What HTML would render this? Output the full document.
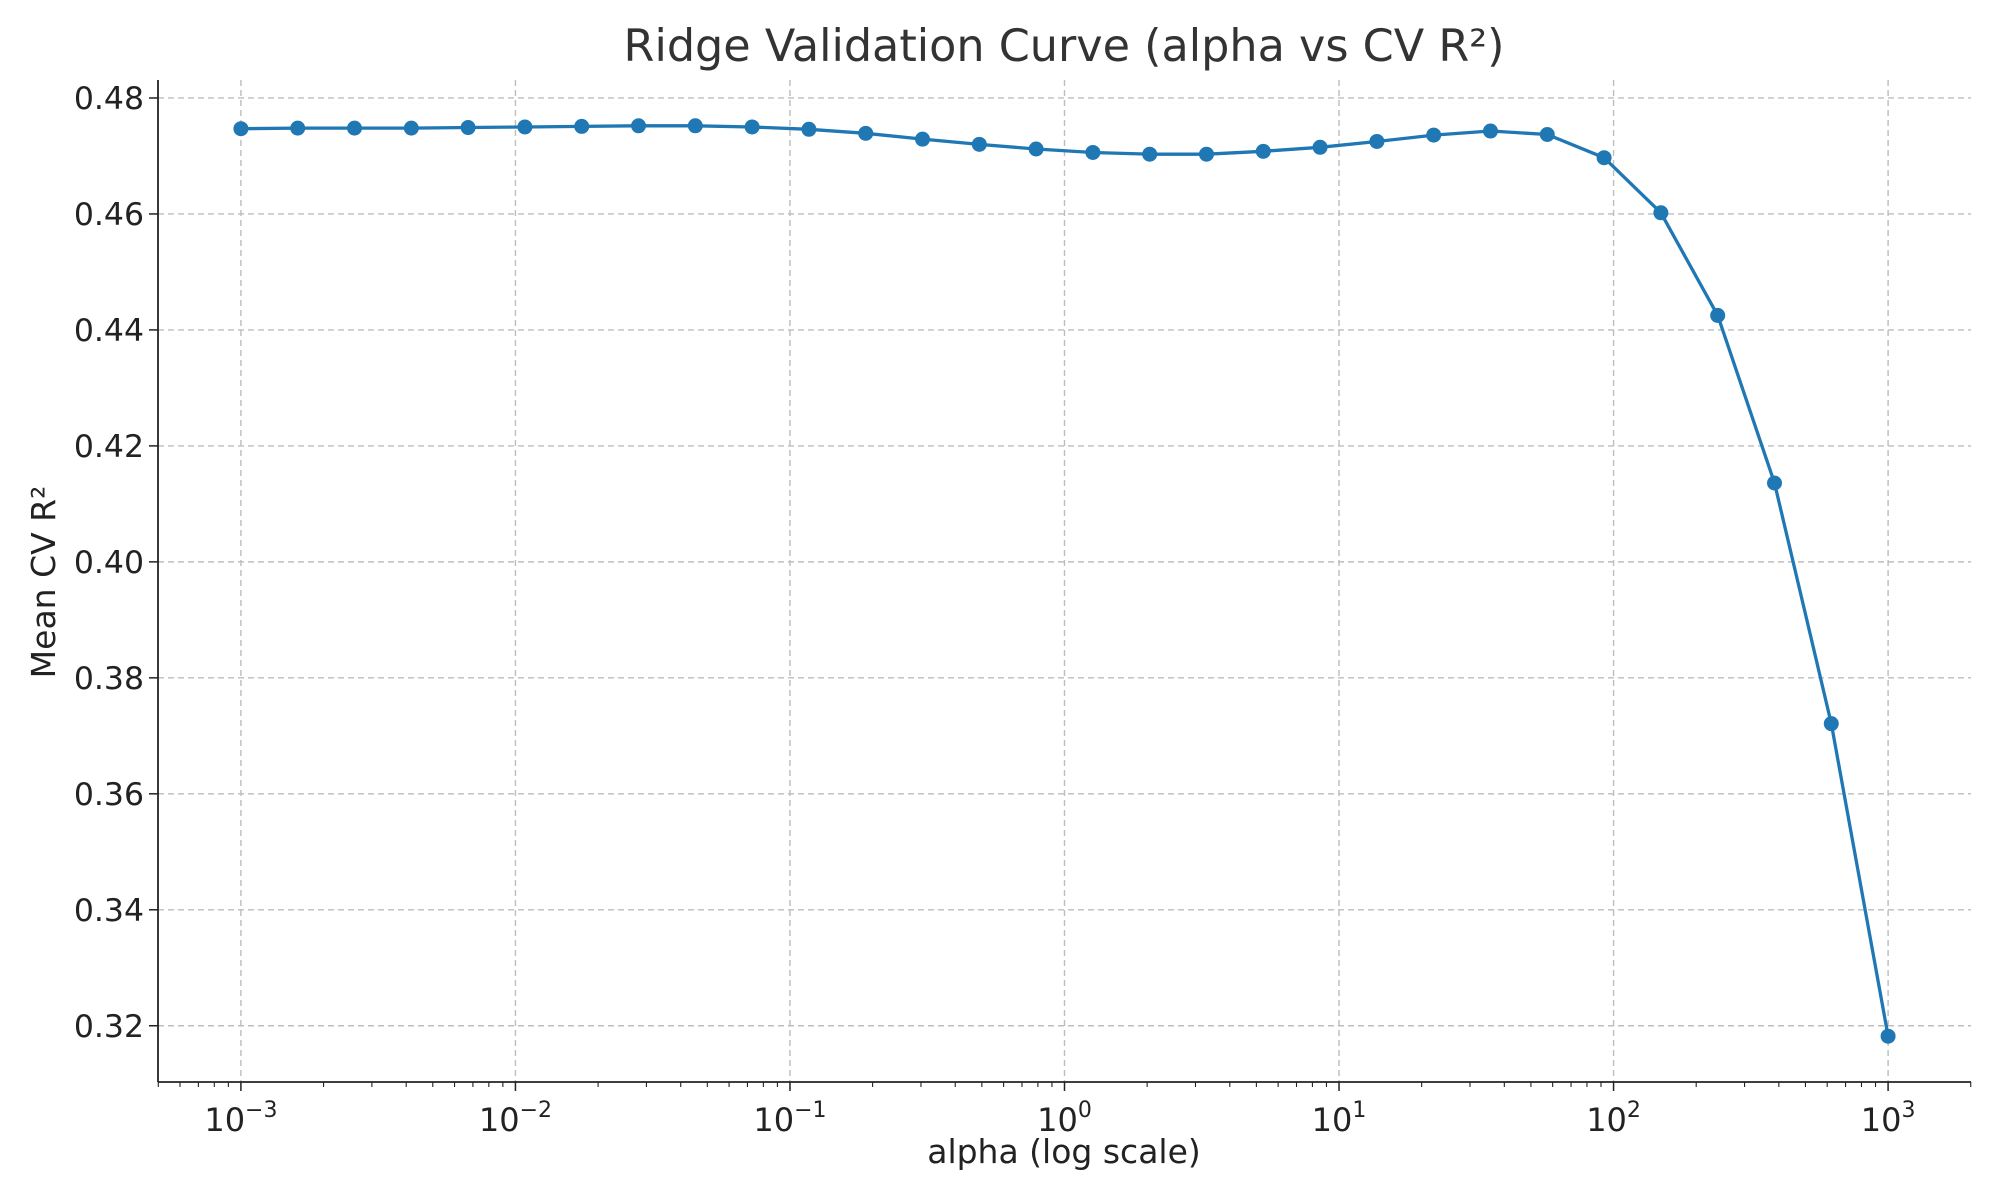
<!DOCTYPE html>
<html><head><meta charset="utf-8"><style>
html,body{margin:0;padding:0;background:#fff;}
svg{display:block;font-family:"DejaVu Sans","Liberation Sans",sans-serif;}
</style></head><body>
<svg id="chart" width="2000" height="1200" viewBox="0 0 2000 1200" xmlns="http://www.w3.org/2000/svg">
<rect width="2000" height="1200" fill="#fff"/>
<text x="1064" y="61" text-anchor="middle" font-size="44.5" fill="#333">Ridge Validation Curve (alpha vs CV R²)</text>
<text x="1064" y="1163" text-anchor="middle" font-size="33" fill="#222">alpha (log scale)</text>
<text x="0" y="0" transform="translate(55,582) rotate(-90)" text-anchor="middle" font-size="33" fill="#222">Mean CV R²</text>
<g id="grid"></g><g id="axes"></g><g id="series"></g>
</svg>
<script>
const alphaExponents = [-3,-2.7931,-2.5862,-2.3793,-2.1724,-1.9655,-1.7586,-1.5517,-1.3448,-1.1379,-0.9310,-0.7241,-0.5172,-0.3103,-0.1034,0.1034,0.3103,0.5172,0.7241,0.9310,1.1379,1.3448,1.5517,1.7586,1.9655,2.1724,2.3793,2.5862,2.7931,3];
const cvR2 = [0.4747,0.4748,0.4748,0.4748,0.4749,0.4750,0.4751,0.4752,0.4752,0.4750,0.4746,0.4739,0.4729,0.4720,0.4712,0.4706,0.4703,0.4703,0.4708,0.4715,0.4725,0.4736,0.4743,0.4737,0.4697,0.4602,0.4425,0.4136,0.3721,0.3182];
const xTickExps = [-3,-2,-1,0,1,2,3];
const yTicks = [0.32,0.34,0.36,0.38,0.40,0.42,0.44,0.46,0.48];
const yTickLabels = ["0.32","0.34","0.36","0.38","0.40","0.42","0.44","0.46","0.48"];

const L=158,R=1971,T=80,B=1082;
const xMin=-3.302,xMax=3.302,yMin=0.3103,yMax=0.4831;
const X=e=>L+(e-xMin)/(xMax-xMin)*(R-L);
const Y=v=>B-(v-yMin)/(yMax-yMin)*(B-T);
const NS="http://www.w3.org/2000/svg";
function mk(tag,attrs,parent){const el=document.createElementNS(NS,tag);for(const k in attrs)el.setAttribute(k,attrs[k]);parent.appendChild(el);return el;}
const grid=document.getElementById('grid'),axes=document.getElementById('axes'),series=document.getElementById('series');

xTickExps.forEach(e=>{
  const x=X(e);
  const g=mk('line',{x1:x,x2:x,y1:T,y2:B,stroke:'#bdbdbd','stroke-width':1.4,'stroke-dasharray':'6,4'},grid);
  
  
  const t=mk('line',{x1:x,x2:x,y1:B,y2:B+9,stroke:'#222','stroke-width':1.5},axes);
  
  
  const lbl=mk('text',{x:x,y:1131,'text-anchor':'middle','font-size':32,fill:'#222'},axes);
  
  
  lbl.textContent='10';
  const sup=mk('tspan',{dy:-14,'font-size':22},lbl);
  sup.textContent=(e<0?'\u2212'+(-e):String(e));
});
for(let d=-4;d<=3;d++){for(let m=2;m<=9;m++){const e=d+Math.log10(m);if(e<xMin||e>xMax)continue;const x=X(e);
  const mt=mk('line',{x1:x,x2:x,y1:B,y2:B+5,stroke:'#222','stroke-width':1.1},axes);
  
  }}
yTicks.forEach((v,i)=>{
  const y=Y(v);
  const g=mk('line',{x1:L,x2:R,y1:y,y2:y,stroke:'#bdbdbd','stroke-width':1.4,'stroke-dasharray':'6,4'},grid);
  
  
  const t=mk('line',{x1:L-9,x2:L,y1:y,y2:y,stroke:'#222','stroke-width':1.5},axes);
  
  
  const lbl=mk('text',{x:L-14,y:y+11,'text-anchor':'end','font-size':31.5,fill:'#222'},axes);
  
  
  lbl.textContent=yTickLabels[i];
});
const ls=mk('line',{x1:L,x2:L,y1:T,y2:B,stroke:'#222','stroke-width':1.8},axes);


const bs=mk('line',{x1:L,x2:R,y1:B,y2:B,stroke:'#222','stroke-width':1.8},axes);



const pts=alphaExponents.map((e,i)=>X(e).toFixed(1)+','+Y(cvR2[i]).toFixed(1)).join(' ');
const line=mk('polyline',{points:pts,fill:'none',stroke:'#1f77b4','stroke-width':3.3,'stroke-linejoin':'round'},series);


alphaExponents.forEach((e,i)=>{
  const c=mk('circle',{cx:X(e),cy:Y(cvR2[i]),r:7.5,fill:'#1f77b4'},series);
  
  
});
</script>
</body></html>
